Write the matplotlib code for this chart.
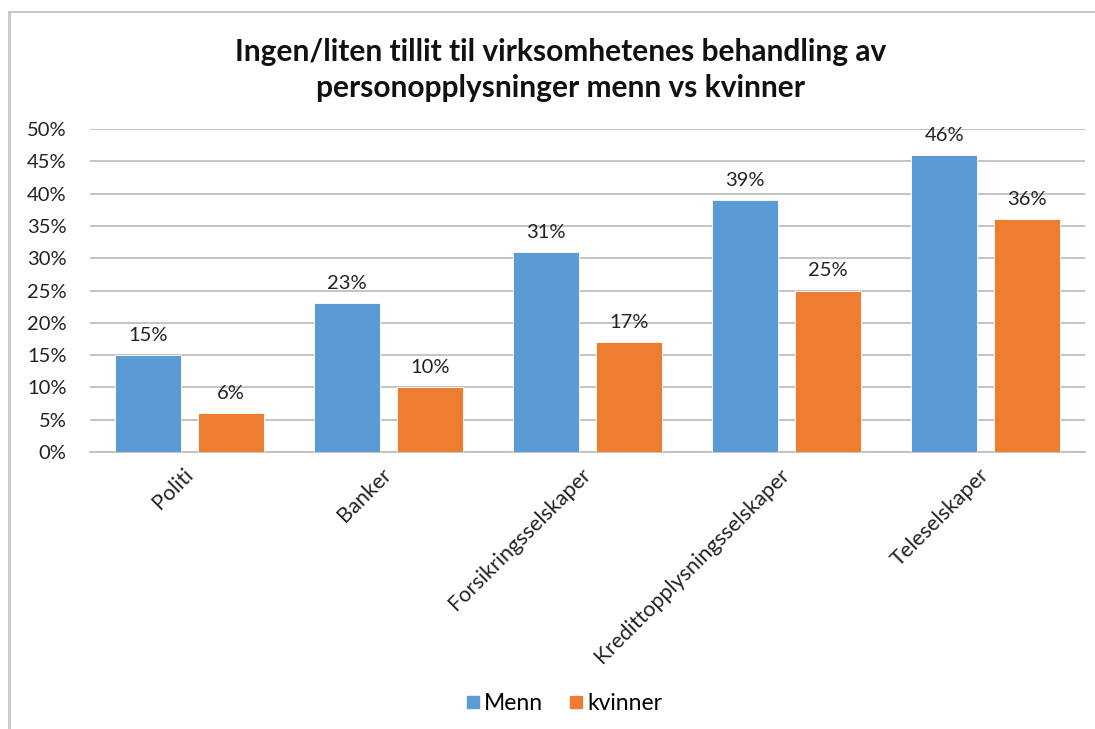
import matplotlib.pyplot as plt
import numpy as np
from matplotlib.lines import Line2D
from matplotlib.ticker import PercentFormatter

categories = ['Politi', 'Banker', 'Forsikringsselskaper',
              'Kredittopplysningsselskaper', 'Teleselskaper']
menn = [0.15, 0.23, 0.31, 0.39, 0.46]
kvinner = [0.06, 0.10, 0.17, 0.25, 0.36]
series_names = ['Menn', 'kvinner']
colors = ['#5b9bd5', '#ed7d31']

plt.rcParams['font.family'] = ['Lato', 'DejaVu Sans']

W, H = 1095, 729
fig = plt.figure(figsize=(W / 100, H / 100), dpi=100)
ax = fig.add_axes([90 / W, 1 - 452 / H, 995 / W, 323 / H])

x = np.arange(len(categories))
width = 0.33
offset = 0.2075
for vals, name, col, sgn in zip([menn, kvinner], series_names, colors, [-1, 1]):
    bars = ax.bar(x + sgn * offset, vals, width, color=col, label=name,
                  edgecolor='white', linewidth=0.6, zorder=3)
    for b, v in zip(bars, vals):
        ax.annotate(f'{v * 100:.0f}%', (b.get_x() + b.get_width() / 2, v),
                    xytext=(0, 8), textcoords='offset points',
                    ha='center', va='bottom', fontsize=14.5, color='#222222')

ax.set_xlim(-0.5, len(categories) - 0.5)
ax.set_ylim(0, 0.5)
ax.set_yticks(np.arange(0, 0.51, 0.05))
ax.yaxis.set_major_formatter(PercentFormatter(1.0, decimals=0))
ax.grid(axis='y', color='#bfbfbf', linewidth=1.3, zorder=0)
for s in ['top', 'right', 'left']:
    ax.spines[s].set_visible(False)
ax.spines['bottom'].set_color('#bfbfbf')
ax.spines['bottom'].set_linewidth(1.3)
ax.tick_params(axis='both', length=0, labelsize=14.5, colors='#222222')
ax.tick_params(axis='y', pad=17)

ax.set_xticks(x)
ax.set_xticklabels(categories, rotation=45, ha='right', va='center',
                   rotation_mode='anchor', fontsize=15.5)
ax.tick_params(axis='x', pad=14)

fig.text(0.512, 1 - 70 / H,
         'Ingen/liten tillit til virksomhetenes behandling av\npersonopplysninger menn vs kvinner',
         ha='center', va='center', fontsize=21.5, fontweight='bold',
         linespacing=1.35, color='#111111')

handles = [Line2D([], [], marker='s', linestyle='none', markersize=9,
                  markerfacecolor=c, markeredgecolor=c) for c in colors]
fig.legend(handles, series_names, loc='center', bbox_to_anchor=(0.514, 1 - 704 / H),
           ncol=2, frameon=False, fontsize=16.5, handletextpad=0.1,
           columnspacing=1.0, handlelength=0.8)

# chart frame
fig.add_artist(Line2D([9 / W, 1], [1 - 12 / H, 1 - 12 / H], color='#c8c8c8', linewidth=1.5))
fig.add_artist(Line2D([9 / W, 9 / W], [0, 1 - 12 / H], color='#c8c8c8', linewidth=2))

fig.savefig('out.png', dpi=100, facecolor='white')
